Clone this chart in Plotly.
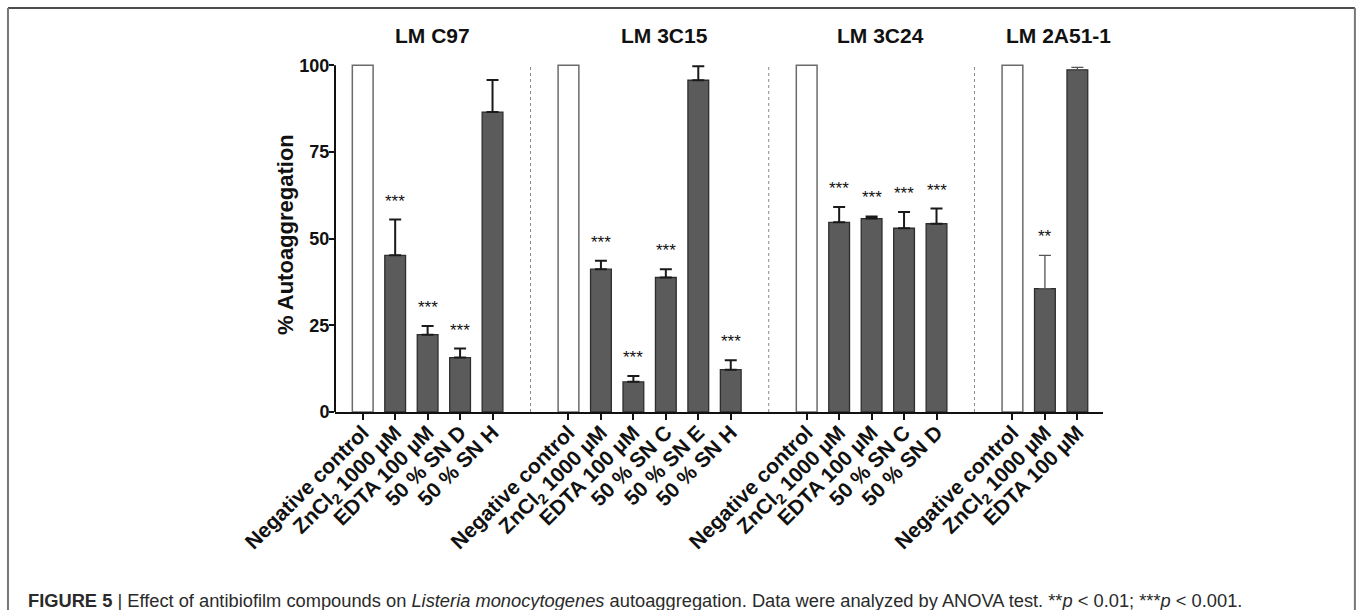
import plotly.graph_objects as go

# ---- data -------------------------------------------------------------
strains = ["LM C97", "LM 3C15", "LM 3C24", "LM 2A51-1"]

c97_labels = ["Negative control", "ZnCl<sub>2</sub> 1000 µM", "EDTA 100 µM",
              "50 % SN D", "50 % SN H"]
c97_values = [100, 45.2, 22.3, 15.7, 86.5]
c97_errors = [0, 10.3, 2.5, 2.6, 9.3]
c97_signif = ["", "***", "***", "***", ""]

c3c15_labels = ["Negative control", "ZnCl<sub>2</sub> 1000 µM", "EDTA 100 µM",
                "50 % SN C", "50 % SN E", "50 % SN H"]
c3c15_values = [100, 41.2, 8.7, 38.8, 95.7, 12.2]
c3c15_errors = [0, 2.4, 1.7, 2.4, 4.0, 2.7]
c3c15_signif = ["", "***", "***", "***", "", "***"]

c3c24_labels = ["Negative control", "ZnCl<sub>2</sub> 1000 µM", "EDTA 100 µM",
                "50 % SN C", "50 % SN D"]
c3c24_values = [100, 54.7, 55.8, 53.0, 54.3]
c3c24_errors = [0, 4.4, 0.6, 4.7, 4.4]
c3c24_signif = ["", "***", "***", "***", "***"]

c2a51_labels = ["Negative control", "ZnCl<sub>2</sub> 1000 µM", "EDTA 100 µM"]
c2a51_values = [100, 35.6, 98.7]
c2a51_errors = [0, 9.6, 0.7]
c2a51_signif = ["", "**", ""]

y_ticks = [0, 25, 50, 75, 100]

groups = [
    (c97_labels, c97_values, c97_errors, c97_signif),
    (c3c15_labels, c3c15_values, c3c15_errors, c3c15_signif),
    (c3c24_labels, c3c24_values, c3c24_errors, c3c24_signif),
    (c2a51_labels, c2a51_values, c2a51_errors, c2a51_signif),
]

# ---- layout constants ---------------------------------------------------
FONT = "Liberation Sans"
GAP = 2.34          # spacing between the last bar of a group and the next group
BAR_W = 0.64
TITLE_X = [2.14, 9.29, 15.95, 21.45]
ERR_STYLE = [("#1a1a1a", 2.0), ("#1a1a1a", 2.0), ("#1a1a1a", 2.0), ("#555555", 1.3)]

fig = go.Figure()
annotations = []
shapes = []
tick_pos, tick_txt = [], []
group_ranges = []

start = 0.0
for gi, (labels, vals, errs, sig) in enumerate(groups):
    xs = [start + i for i in range(len(labels))]
    group_ranges.append((xs[0], xs[-1]))
    tick_pos += xs
    tick_txt += labels

    # untreated control: open bar
    fig.add_trace(go.Bar(
        x=xs[:1], y=vals[:1], width=BAR_W,
        marker=dict(color="white", line=dict(color="#6b6b6b", width=1.5)),
        showlegend=False, hoverinfo="skip"))

    # treatments: filled bars with upper SEM bars
    ecol, ethick = ERR_STYLE[gi]
    fig.add_trace(go.Bar(
        x=xs[1:], y=vals[1:], width=BAR_W,
        marker=dict(color="#5b5b5b", line=dict(color="#2e2e2e", width=1.3)),
        error_y=dict(type="data", array=errs[1:], arrayminus=[0] * (len(xs) - 1),
                     symmetric=False, color=ecol, thickness=ethick, width=6),
        showlegend=False, hoverinfo="skip"))

    for x, v, e, s in zip(xs, vals, errs, sig):
        if s:
            annotations.append(dict(
                x=x, y=v + e, xref="x", yref="y", text=s, showarrow=False,
                yanchor="bottom", yshift=7,
                font=dict(family=FONT, size=17, color="#111")))

    annotations.append(dict(
        x=TITLE_X[gi], y=1.079, xref="x", yref="paper", text=strains[gi],
        showarrow=False, yanchor="middle",
        font=dict(family=FONT, size=21, color="#111", weight="bold")))

    start = xs[-1] + GAP

# dashed separators between strains
for (a0, a1), (b0, b1) in zip(group_ranges[:-1], group_ranges[1:]):
    xm = (a1 + b0) / 2
    shapes.append(dict(type="line", xref="x", yref="y", x0=xm, x1=xm, y0=0, y1=100,
                       line=dict(color="#8a8a8a", width=1, dash="dot")))

# y axis line from 0 to 100
shapes.append(dict(type="line", xref="paper", yref="y", x0=0, x1=0, y0=0, y1=100,
                   line=dict(color="#111", width=2)))

# frame around the figure
shapes.append(dict(type="line", xref="paper", yref="paper", x0=-0.4258, x1=1.328,
                   y0=1.1576, y1=1.1576, line=dict(color="#111", width=1.5)))
shapes.append(dict(type="line", xref="paper", yref="paper", x0=-0.4258, x1=-0.4258,
                   y0=1.1576, y1=-0.6, line=dict(color="#777", width=2)))
shapes.append(dict(type="line", xref="paper", yref="paper", x0=1.328, x1=1.328,
                   y0=1.1576, y1=-0.6, line=dict(color="#777", width=2)))

# y-axis title
annotations.append(dict(
    x=-0.0651, y=0.507, xref="paper", yref="paper", text="% Autoaggregation",
    textangle=-90, showarrow=False, xanchor="center", yanchor="middle",
    font=dict(family=FONT, size=22, color="#111", weight="bold")))

# caption
annotations.append(dict(
    x=-0.4023, y=-0.5415, xref="paper", yref="paper", xanchor="left", yanchor="middle",
    showarrow=False,
    text=("<b>FIGURE 5</b> | Effect of antibiofilm compounds on <i>Listeria monocytogenes</i> "
          "autoaggregation. Data were analyzed by ANOVA test. **<i>p</i> &lt; 0.01; "
          "***<i>p</i> &lt; 0.001."),
    font=dict(family=FONT, size=18.3, color="#2a2a2a")))

fig.update_layout(
    width=1358, height=610,
    margin=dict(l=335, r=255, t=63, b=198, pad=0),
    paper_bgcolor="white", plot_bgcolor="white",
    barmode="overlay",
    showlegend=False,
    annotations=annotations,
    shapes=shapes,
    xaxis=dict(
        range=[-0.854, 22.81], tickmode="array", tickvals=tick_pos, ticktext=tick_txt,
        tickangle=-45, ticks="outside", ticklen=6, tickwidth=2, tickcolor="#111",
        ticklabelstandoff=-8,
        showline=True, linecolor="#111", linewidth=2, showgrid=False, zeroline=False,
        tickfont=dict(family=FONT, size=21, color="#111", weight="bold")),
    yaxis=dict(
        range=[0, 100.67], tickmode="array", tickvals=y_ticks,
        ticks="outside", ticklen=5, tickwidth=2, tickcolor="#111",
        ticklabelstandoff=-4,
        showline=False, showgrid=False, zeroline=False,
        tickfont=dict(family=FONT, size=18, color="#111", weight="bold")),
)

fig.write_html("out.html")
